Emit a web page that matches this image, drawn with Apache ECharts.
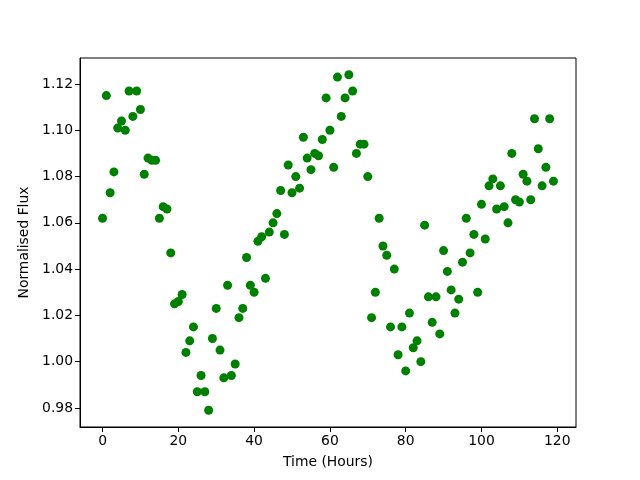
<!DOCTYPE html>
<html>
<head>
<meta charset="utf-8">
<script src="https://cdn.jsdelivr.net/npm/echarts@6/dist/echarts.min.js"></script>
<style>
  html, body { margin: 0; padding: 0; background: #fff; }
  #main { width: 640px; height: 480px; }
</style>
</head>
<body>
<div id="main"></div>
<script>
// hours 0..119, one reading per hour
var hours = [];
for (var i = 0; i < 120; i++) hours.push(i);

var flux = [
  1.062, 1.115, 1.073, 1.082, 1.101, 1.104, 1.100, 1.117, 1.106, 1.117,
  1.109, 1.081, 1.088, 1.087, 1.087, 1.062, 1.067, 1.066, 1.047, 1.025,
  1.026, 1.029, 1.004, 1.009, 1.015, 0.987, 0.994, 0.987, 0.979, 1.010,
  1.023, 1.005, 0.993, 1.033, 0.994, 0.999, 1.019, 1.023, 1.045, 1.033,
  1.030, 1.052, 1.054, 1.036, 1.056, 1.060, 1.064, 1.074, 1.055, 1.085,
  1.073, 1.080, 1.075, 1.097, 1.088, 1.083, 1.090, 1.089, 1.096, 1.114,
  1.100, 1.084, 1.123, 1.106, 1.114, 1.124, 1.117, 1.090, 1.094, 1.094,
  1.080, 1.019, 1.030, 1.062, 1.050, 1.046, 1.015, 1.040, 1.003, 1.015,
  0.996, 1.021, 1.006, 1.009, 1.000, 1.059, 1.028, 1.017, 1.028, 1.012,
  1.048, 1.039, 1.031, 1.021, 1.027, 1.043, 1.062, 1.047, 1.055, 1.030,
  1.068, 1.053, 1.076, 1.079, 1.066, 1.076, 1.067, 1.060, 1.090, 1.070,
  1.069, 1.081, 1.078, 1.070, 1.105, 1.092, 1.076, 1.084, 1.105, 1.078
];

var xTicks = [0, 20, 40, 60, 80, 100, 120];
var yTicks = [0.98, 1.00, 1.02, 1.04, 1.06, 1.08, 1.10, 1.12];

var points = hours.map(function (h, k) { return [h, flux[k]]; });

var font = 'DejaVu Sans';
var fs = 13.9;
var axisCommon = {
  axisLine: { show: true, onZero: false, lineStyle: { color: '#000', width: 1 } },
  axisTick: { show: true, length: 5, inside: false, lineStyle: { color: '#000' } },
  splitLine: { show: false },
  nameLocation: 'middle',
  nameTextStyle: { color: '#000', fontFamily: font, fontSize: fs }
};

var chart = echarts.init(document.getElementById('main'));
chart.setOption({
  animation: false,
  backgroundColor: '#fff',
  grid: { left: 80, top: 58, right: 64, bottom: 53, show: true, borderColor: '#000', borderWidth: 1, backgroundColor: 'transparent' },
  xAxis: Object.assign({}, axisCommon, {
    type: 'value',
    min: -5.95,
    max: 124.95,
    name: 'Time (Hours)',
    nameGap: 28,
    axisTick: Object.assign({}, axisCommon.axisTick, { customValues: xTicks }),
    axisLabel: { customValues: xTicks, color: '#000', fontFamily: font, fontSize: fs, margin: 7 }
  }),
  yAxis: Object.assign({}, axisCommon, {
    type: 'value',
    min: 0.97175,
    max: 1.13125,
    name: 'Normalised Flux',
    nameGap: 43,
    axisTick: Object.assign({}, axisCommon.axisTick, { customValues: yTicks }),
    axisLabel: {
      customValues: yTicks, color: '#000', fontFamily: font, fontSize: fs, margin: 7,
      formatter: function (v) { return v.toFixed(2); }
    }
  }),
  series: [{
    type: 'scatter',
    data: points,
    symbol: 'circle',
    symbolSize: 9,
    itemStyle: { color: '#008000', opacity: 1 }
  }]
});
</script>
</body>
</html>
